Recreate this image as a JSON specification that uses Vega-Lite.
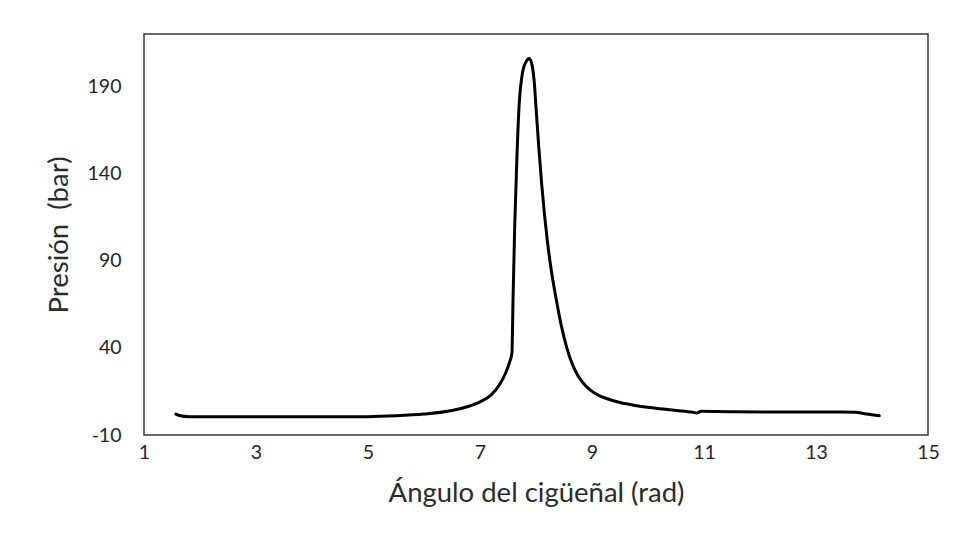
{
  "$schema": "https://vega.github.io/schema/vega-lite/v6.json",
  "width": 784,
  "height": 401,
  "autosize": {"type": "none"},
  "padding": {"left": 144, "top": 34, "right": 33, "bottom": 121},
  "background": "white",
  "config": {
    "view": {"stroke": "#3a3a3a", "strokeWidth": 1.5},
    "font": "Lato",
    "axis": {
      "grid": false,
      "domain": false,
      "ticks": false,
      "labelFont": "Lato",
      "labelFontSize": 19.5,
      "labelColor": "#262626",
      "titleFont": "Lato",
      "titleFontSize": 27.5,
      "titleFontWeight": "normal",
      "titleColor": "#2b2b2b"
    }
  },
  "data": {
    "values": [
      {"angulo": 1.57, "presion": 2.0},
      {"angulo": 1.65, "presion": 1.0},
      {"angulo": 1.8, "presion": 0.5},
      {"angulo": 2.5, "presion": 0.4},
      {"angulo": 3.0, "presion": 0.4},
      {"angulo": 4.0, "presion": 0.4},
      {"angulo": 5.0, "presion": 0.5},
      {"angulo": 5.5, "presion": 1.0},
      {"angulo": 6.0, "presion": 2.0},
      {"angulo": 6.5, "presion": 4.0},
      {"angulo": 6.8, "presion": 6.5},
      {"angulo": 7.0, "presion": 9.0},
      {"angulo": 7.2, "presion": 13},
      {"angulo": 7.35, "presion": 19},
      {"angulo": 7.45, "presion": 25},
      {"angulo": 7.52, "presion": 31},
      {"angulo": 7.57, "presion": 37},
      {"angulo": 7.59, "presion": 68},
      {"angulo": 7.62, "presion": 110},
      {"angulo": 7.66, "presion": 150},
      {"angulo": 7.7, "presion": 180},
      {"angulo": 7.75, "presion": 196},
      {"angulo": 7.82, "presion": 204},
      {"angulo": 7.88, "presion": 206},
      {"angulo": 7.93, "presion": 202},
      {"angulo": 7.97, "presion": 192},
      {"angulo": 8.0, "presion": 178},
      {"angulo": 8.05, "presion": 155},
      {"angulo": 8.1, "presion": 134.5},
      {"angulo": 8.15, "presion": 117},
      {"angulo": 8.2, "presion": 102},
      {"angulo": 8.25, "presion": 89.5},
      {"angulo": 8.3, "presion": 79},
      {"angulo": 8.36, "presion": 68},
      {"angulo": 8.45, "presion": 53},
      {"angulo": 8.55, "presion": 40},
      {"angulo": 8.65, "presion": 30.5},
      {"angulo": 8.75, "presion": 24},
      {"angulo": 8.85, "presion": 19.5},
      {"angulo": 8.96, "presion": 16},
      {"angulo": 9.1, "presion": 13},
      {"angulo": 9.3, "presion": 10.5},
      {"angulo": 9.5, "presion": 8.6},
      {"angulo": 9.8, "presion": 6.8},
      {"angulo": 10.1, "presion": 5.5},
      {"angulo": 10.5, "presion": 4.1},
      {"angulo": 10.8, "presion": 3.0},
      {"angulo": 10.87, "presion": 2.6},
      {"angulo": 10.95, "presion": 3.6},
      {"angulo": 11.5, "presion": 3.3},
      {"angulo": 12.5, "presion": 3.2},
      {"angulo": 13.3, "presion": 3.2},
      {"angulo": 13.7, "presion": 3.1},
      {"angulo": 13.9, "presion": 2.0},
      {"angulo": 14.13, "presion": 1.0}
    ]
  },
  "mark": {"type": "line", "color": "black", "strokeWidth": 3, "interpolate": "monotone", "strokeCap": "round", "strokeJoin": "round"},
  "encoding": {
    "x": {
      "field": "angulo",
      "type": "quantitative",
      "scale": {"domain": [1, 15], "nice": false, "zero": false},
      "axis": {"values": [1, 3, 5, 7, 9, 11, 13, 15], "title": "Ángulo del cigüeñal (rad)", "labelPadding": 8, "titlePadding": 18, "labelFlush": false}
    },
    "y": {
      "field": "presion",
      "type": "quantitative",
      "scale": {"domain": [-10, 220], "nice": false, "zero": false},
      "axis": {"values": [-10, 40, 90, 140, 190], "labelExpr": "toString(datum.value)", "title": "Presión\u00a0 (bar)", "labelPadding": 23, "titlePadding": 14, "labelFlush": false}
    }
  }
}
